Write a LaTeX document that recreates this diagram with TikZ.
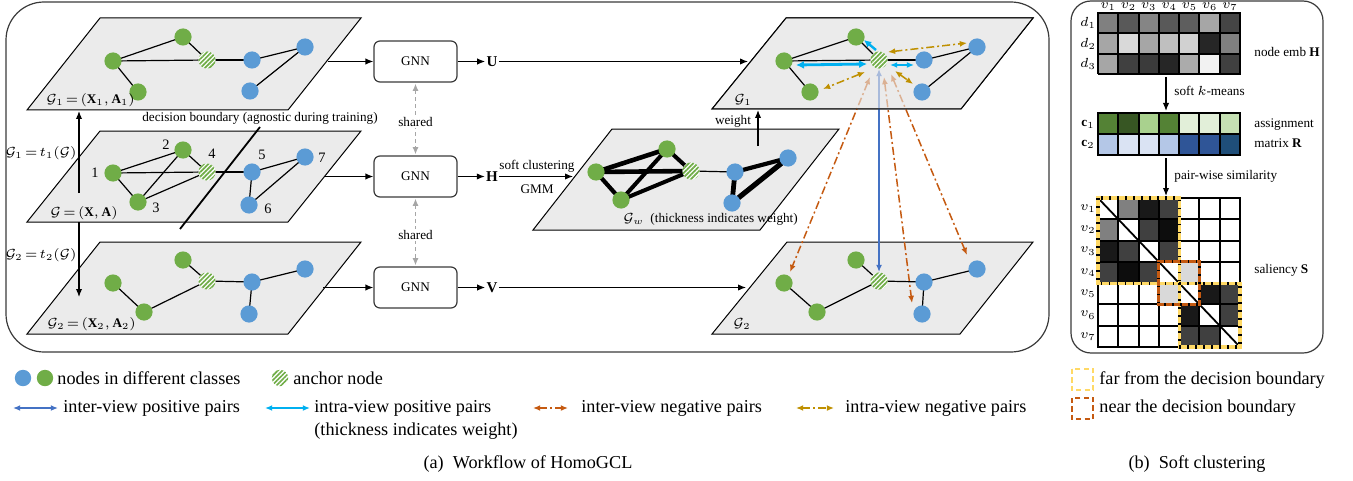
\RequirePackage{fix-cm}
\documentclass[tikz,border=0pt]{standalone}
\usepackage{fontspec}
\setmainfont{Liberation Serif}
\usetikzlibrary{arrows.meta,patterns.meta,calc}

\definecolor{ngreen}{HTML}{70AD47}
\definecolor{nblue}{HTML}{5B9BD5}
\definecolor{planegray}{HTML}{EBEBEB}
\definecolor{posblue}{HTML}{4472C4}
\definecolor{poscyan}{HTML}{00B0F0}
\definecolor{neggold}{HTML}{BF9000}
\definecolor{negorange}{HTML}{C55A11}
\definecolor{farylw}{HTML}{FFD966}
\definecolor{boxgray}{HTML}{3A3A3A}
\definecolor{sharegray}{HTML}{A6A6A6}
\definecolor{gA}{HTML}{548235}
\definecolor{gB}{HTML}{375623}
\definecolor{gC}{HTML}{A9D18E}
\definecolor{gD}{HTML}{E2EFD9}
\definecolor{gE}{HTML}{C5E0B3}
\definecolor{bA}{HTML}{B4C7E7}
\definecolor{bB}{HTML}{DAE3F3}
\definecolor{bC}{HTML}{2F5597}
\definecolor{bD}{HTML}{1F4E79}

\newcommand{\legtxt}{\fontsize{9.1}{11}\selectfont}
\newcommand{\smalltxt}{\fontsize{6.6}{8}\selectfont}
\newcommand{\numtxt}{\fontsize{7.2}{8}\selectfont}
\newcommand{\cellw}{20.286}
\newcommand{\cellh}{21.29}
% tighter relation spacing for the small graph labels
\newcommand{\teq}{\mkern-2.5mu=\mkern-2.5mu}

\pgfdeclarelayer{planes}
\pgfdeclarelayer{links}
\pgfdeclarelayer{veil}
\pgfdeclarelayer{edges}
\pgfsetlayers{planes,links,veil,edges,main}

\begin{document}
\begin{tikzpicture}[x=0.5pt,y=-0.5pt,
  gn/.style={circle,fill=ngreen,inner sep=0pt,minimum size=8.6pt},
  bn/.style={circle,fill=nblue,inner sep=0pt,minimum size=8.6pt},
  an/.style={circle,inner sep=0pt,minimum size=8.6pt,fill=white,
    postaction={pattern={Lines[angle=45,distance=1.6pt,line width=0.85pt]},pattern color=ngreen}},
  lnk/.style={line width=0.6pt},
  plane/.style={fill=planegray,draw=black,line width=0.5pt},
  gnnbox/.style={draw=boxgray,rounded corners=3pt,line width=0.6pt,minimum width=41.5pt,
    minimum height=20.5pt,inner sep=0pt,font=\smalltxt},
  flow/.style={line width=0.6pt,-{Latex[length=4pt,width=3.2pt]}},
  dbl/.style={{Latex[length=3.6pt,width=3pt]}-{Latex[length=3.6pt,width=3pt]}},
  sharedarr/.style={draw=sharegray,line width=0.5pt,dash pattern=on 2pt off 1.5pt,
    {Latex[length=3.5pt,width=3pt]}-{Latex[length=3.5pt,width=3pt]},shorten <=0.6pt,shorten >=0.6pt},
  lab/.style={inner sep=0.5pt,font=\smalltxt},
  bold/.style={inner sep=0.5pt,font=\fontsize{7.5}{8}\selectfont},
  num/.style={inner sep=0pt,font=\numtxt},
  legtext/.style={inner sep=0pt,anchor=west,font=\legtxt},
  dashdot/.style={line width=0.75pt,dash pattern=on 4pt off 1.5pt on 1pt off 1.5pt},
  intraneg/.style={dashdot,draw=neggold,dbl},
  interneg/.style={dashdot,draw=negorange,dbl},
  farbox/.style={draw=farylw,line width=1.6pt},
  nearbox/.style={draw=negorange,line width=1.6pt},
  dotover/.style={draw=black,line width=1.6pt,dash pattern=on 0.8pt off 3.2pt},
]
\useasboundingbox (0,0) rectangle (1353,481);

% ---------- frames ----------
\draw[boxgray,line width=0.6pt,rounded corners=19pt] (6,2) rectangle (1049,352);
\draw[boxgray,line width=0.6pt,rounded corners=10pt] (1071,1) rectangle (1323,353);

% ---------- planes ----------
\begin{pgfonlayer}{planes}
  \path[plane] (100,18) -- (361,18) -- (288,110) -- (27,110) -- cycle;
  \path[plane] (100,131) -- (361,131) -- (288,222) -- (27,222) -- cycle;
  \path[plane] (100,242) -- (361,242) -- (288,334) -- (27,334) -- cycle;
  \path[plane] (612,129) -- (839,129) -- (760,230) -- (533,230) -- cycle;
  \path[plane] (787,242) -- (1033,242) -- (960,334) -- (712,334) -- cycle;
  \path[plane] (786,18) -- (1033,18) -- (961,109) -- (712,109) -- cycle;
\end{pgfonlayer}
\begin{pgfonlayer}{veil}
  \path[plane,fill opacity=0.6] (786,18) -- (1033,18) -- (961,109) -- (712,109) -- cycle;
\end{pgfonlayer}

% ---------- view 1 (left) ----------
\node[gn] (a1) at (113,61) {};
\node[gn] (a2) at (183,37) {};
\node[gn] (a3) at (138,92) {};
\node[an] (a4) at (207,60) {};
\node[bn] (a5) at (252,60) {};
\node[bn] (a6) at (250,91) {};
\node[bn] (a7) at (305,47) {};
\node[lab,anchor=west] (a1lab) at (45,100) {$\mathcal{G}_1\teq(\mathbf{X}_1,\mathbf{A}_1)$};

% ---------- original graph ----------
\node[gn] (b1) at (113,173) {};
\node[gn] (b2) at (183,150) {};
\node[gn] (b3) at (138,202) {};
\node[an] (b4) at (207,172) {};
\node[bn] (b5) at (252,172) {};
\node[bn] (b6) at (249,205) {};
\node[bn] (b7) at (305,157) {};
\node[num] (n1) at (95,173) {1};
\node[num] (n2) at (166,145) {2};
\node[num] (n3) at (156,208) {3};
\node[num] (n4) at (212,154) {4};
\node[num] (n5) at (262,155) {5};
\node[num] (n6) at (268,209) {6};
\node[num] (n7) at (322,158) {7};
\node[lab,anchor=west] (b0lab) at (49,213) {$\mathcal{G}\teq(\mathbf{X},\mathbf{A})$};

% ---------- view 2 (left) ----------
\node[gn] (c1) at (113,283) {};
\node[gn] (c2) at (183,260) {};
\node[gn] (c3) at (144,312) {};
\node[an] (c4) at (207,281) {};
\node[bn] (c5) at (252,282) {};
\node[bn] (c6) at (249,314) {};
\node[bn] (c7) at (305,269) {};
\node[lab,anchor=west] (c2lab) at (46,324) {$\mathcal{G}_2\teq(\mathbf{X}_2,\mathbf{A}_2)$};

% ---------- weighted graph ----------
\node[gn] (w1) at (596,172) {};
\node[gn] (w2) at (667,149) {};
\node[gn] (w3) at (621,200) {};
\node[an] (w4) at (691,171) {};
\node[bn] (w5) at (735,172) {};
\node[bn] (w6) at (732,203) {};
\node[bn] (w7) at (788,158) {};
\node[lab,anchor=west] (wlab) at (622,219) {$\mathcal{G}_w$\ \ (thickness indicates weight)};

% ---------- view 1 (right) ----------
\node[gn] (r1) at (784,61) {};
\node[gn] (r2) at (856,37) {};
\node[gn] (r3) at (810,92) {};
\node[an] (r4) at (879,60) {};
\node[bn] (r5) at (924,60) {};
\node[bn] (r6) at (922,92) {};
\node[bn] (r7) at (977,47) {};
\node[lab] (rlab) at (743,100) {$\mathcal{G}_1$};

% ---------- view 2 (right) ----------
\node[gn] (s1) at (784,283) {};
\node[gn] (s2) at (856,260) {};
\node[gn] (s3) at (817,312) {};
\node[an] (s4) at (879,281) {};
\node[bn] (s5) at (924,282) {};
\node[bn] (s6) at (922,314) {};
\node[bn] (s7) at (977,269) {};
\node[lab] (slab) at (742,324) {$\mathcal{G}_2$};

% ---------- graph edges ----------
\begin{pgfonlayer}{edges}
  \foreach \u/\v in {a1/a2,a2/a4,a1/a4,a4/a5,a1/a3,a5/a7,a7/a6,
                     b1/b2,b1/b4,b4/b5,b1/b3,b2/b3,b3/b4,b2/b4,b5/b7,b5/b6,b6/b7,
                     c2/c4,c4/c5,c5/c7,c5/c6,c1/c3,c3/c4,
                     r1/r2,r2/r4,r1/r4,r4/r5,r1/r3,r5/r7,r7/r6,
                     s2/s4,s4/s5,s5/s7,s5/s6,s1/s3,s3/s4,
                     w4/w5}
    \draw[lnk] (\u.center) -- (\v.center);
  \foreach \u/\v/\w in {w1/w2/2.3,w1/w4/2.3,w1/w3/2.1,w3/w2/2.0,w3/w4/2.0,w2/w4/2.0,
                        w5/w7/2.1,w7/w6/2.6,w5/w6/2.4}
    \draw[line width=\w pt] (\u.center) -- (\v.center);
\end{pgfonlayer}

% ---------- decision boundary ----------
\coordinate (db1) at (260,127);
\coordinate (db2) at (180,229);
\draw[line width=0.9pt] (db1) -- (db2);
\node[lab] (dblab) at (260,118) {decision boundary (agnostic during training)};

% ---------- augmentations ----------
\coordinate (t1s) at (79,193);
\coordinate (t1e) at (79,111);
\coordinate (t2s) at (79,222);
\coordinate (t2e) at (79,297);
\draw[flow] (t1s) -- (t1e);
\draw[flow] (t2s) -- (t2e);
\node[lab,anchor=east] (t1lab) at (78,153) {$\mathcal{G}_1\teq t_1(\mathcal{G})$};
\node[lab,anchor=east] (t2lab) at (78,255) {$\mathcal{G}_2\teq t_2(\mathcal{G})$};

% ---------- encoders ----------
\node[gnnbox] (gnn1) at (415.5,61.5) {GNN};
\node[gnnbox] (gnn2) at (415.5,176.5) {GNN};
\node[gnnbox] (gnn3) at (415.5,287.5) {GNN};
\coordinate (p1o) at (328,61.5);
\coordinate (p0o) at (324,176.5);
\coordinate (p2o) at (323,287.5);
\draw[flow] (p1o) -- (gnn1.west);
\draw[flow] (p0o) -- (gnn2.west);
\draw[flow] (p2o) -- (gnn3.west);

\draw[sharedarr] (gnn1.south) -- (gnn2.north);
\draw[sharedarr] (gnn2.south) -- (gnn3.north);
\node[lab,fill=white] (sh1) at (415.5,122) {shared};
\node[lab,fill=white] (sh2) at (415.5,235) {shared};

\node[bold] (U) at (492,61.5) {$\mathbf{U}$};
\node[bold] (H) at (492,176.5) {$\mathbf{H}$};
\node[bold] (V) at (492,287.5) {$\mathbf{V}$};
\draw[flow] (gnn1.east) -- (U.west);
\draw[flow] (gnn2.east) -- (H.west);
\draw[flow] (gnn3.east) -- (V.west);

\coordinate (uend) at (748,61.5);
\coordinate (hend) at (573,176.5);
\coordinate (vend) at (746,287.5);
\draw[flow] (U.east) -- (uend);
\draw[flow] (H.east) -- (hend);
\draw[flow] (V.east) -- (vend);
\node[lab] (sclab) at (537,166) {soft clustering};
\node[lab] (gmmlab) at (537,189) {GMM};

\coordinate (wts) at (758,146);
\coordinate (wte) at (758,110);
\draw[flow] (wts) -- (wte);
\node[lab] (wtlab) at (733,121) {weight};

% ---------- inter-view pairs ----------
\begin{pgfonlayer}{links}
  \draw[interneg] ($(r4)+(-9,17)$) -- ($(s1)+(6,-11)$);
  \draw[interneg] ($(r4)+(5,17)$) -- ($(s6)+(-10,-11)$);
  \draw[interneg] ($(r4)+(12,14)$) -- ($(s7)+(-10,-14)$);
  \draw[posblue,line width=0.75pt,dbl] (r4) -- (s4);
\end{pgfonlayer}

% ---------- intra-view pairs ----------
\draw[poscyan,line width=1.4pt,{Latex[length=4pt,width=4pt]}-{Latex[length=4pt,width=4pt]}]
  ($(r1)+(12,4)$) -- ($(r4)+(-12,4)$);
\draw[poscyan,line width=1.2pt,-{Latex[length=3.6pt,width=3.6pt]}] ($(r4)+(-3,-10)$) -- ($(r2)+(8,3)$);
\draw[poscyan,line width=0.7pt,dbl] ($(r4)+(11,5)$) -- ($(r5)+(-10,5)$);
\draw[intraneg] ($(r4)+(9,-8)$) -- ($(r7)+(-10,-4)$);
\draw[intraneg] ($(r4)+(-14,12)$) -- ($(r3)+(13,-3)$);
\draw[intraneg] ($(r4)+(16,11)$) -- ($(r6)+(-9,-8)$);

% ---------- soft clustering: node embeddings ----------
\foreach \row [count=\j from 0] in {{50,65,48,65,63,35,73},{35,15,35,25,18,85,50},{35,75,77,85,33,5,75}}{
  \foreach \g [count=\i from 0] in \row {
    \fill[black!\g] (1098+\i*\cellw,13+\j*20.33) rectangle ++(\cellw,20.33);
  }
}
\foreach \i in {0,...,7} \draw[line width=1pt] (1098+\i*\cellw,12.5) -- (1098+\i*\cellw,74.5);
\foreach \j in {0,...,3} \draw[line width=1pt] (1097.5,13+\j*20.33) -- (1240.5,13+\j*20.33);
\foreach \i in {1,...,7}
  \node[lab,anchor=base] (hv\i) at (1098+\i*\cellw-0.5*\cellw,8.5) {$v_{\i}$};
\foreach \j in {1,2,3}
  \node[lab] (hd\j) at (1088,23.2+\j*20.33-20.33) {$d_{\j}$};
\node[lab,anchor=west] (hlab) at (1253,52) {node emb $\mathbf{H}$};

\coordinate (hb) at (1166,77);
\coordinate (rt) at (1166,111);
\draw[flow] (hb) -- (rt);
\node[lab,anchor=west] (kmlab) at (1173,91) {soft $k$-means};

% ---------- assignment matrix ----------
\foreach \c [count=\i from 0] in {gA,gB,gC,gA,gD,gD,gE}
  \fill[\c] (1098+\i*\cellw,113) rectangle ++(\cellw,21);
\foreach \c [count=\i from 0] in {bA,bB,bB,bA,bC,bC,bD}
  \fill[\c] (1098+\i*\cellw,134) rectangle ++(\cellw,21);
\foreach \i in {0,...,7} \draw[line width=1pt] (1098+\i*\cellw,112.5) -- (1098+\i*\cellw,155.5);
\foreach \j in {0,1,2} \draw[line width=1pt] (1097.5,113+\j*21) -- (1240.5,113+\j*21);
\node[lab] (rc1) at (1088,124) {$\mathbf{c}_1$};
\node[lab] (rc2) at (1088,144) {$\mathbf{c}_2$};
\node[lab,anchor=west] (rlab1) at (1253,125) {assignment};
\node[lab,anchor=west] (rlab2) at (1253,143) {matrix $\mathbf{R}$};

\coordinate (rb) at (1166,158);
\coordinate (st) at (1166,196);
\draw[flow] (rb) -- (st);
\node[lab,anchor=west] (pwlab) at (1173,176) {pair-wise similarity};

% ---------- saliency matrix ----------
\foreach \row [count=\j from 0] in {{0,50,90,75,0,0,0},{50,0,75,95,0,0,0},{90,75,0,75,0,0,0},
    {75,95,75,0,15,0,0},{0,0,0,15,0,90,75},{0,0,0,0,90,0,75},{0,0,0,0,75,75,0}}{
  \foreach \g [count=\i from 0] in \row {
    \fill[black!\g] (1098+\i*\cellw,198+\j*\cellh) rectangle ++(\cellw,\cellh);
  }
}
\foreach \i in {0,...,7} \draw[line width=1pt] (1098+\i*\cellw,197.5) -- (1098+\i*\cellw,347.5);
\foreach \j in {0,...,7} \draw[line width=1pt] (1097.5,198+\j*\cellh) -- (1240.5,198+\j*\cellh);
\draw[line width=0.9pt] (1098,198) -- (1240,347);
\foreach \j in {1,...,7}
  \node[lab] (sv\j) at (1088,198+\j*\cellh-0.5*\cellh) {$v_{\j}$};
\node[lab,anchor=west] (slab2) at (1253,270) {saliency $\mathbf{S}$};

\draw[farbox] (1098,198) rectangle (1098+4*\cellw,198+4*\cellh);
\draw[dotover] (1098,198) rectangle (1098+4*\cellw,198+4*\cellh);
\draw[farbox] (1098+4*\cellw,198+4*\cellh) rectangle (1240,347);
\draw[dotover] (1098+4*\cellw,198+4*\cellh) rectangle (1240,347);
\draw[nearbox] (1098+3*\cellw,198+3*\cellh) rectangle (1098+5*\cellw,198+5*\cellh);
\draw[dotover] (1098+3*\cellw,198+3*\cellh) rectangle (1098+5*\cellw,198+5*\cellh);

% ---------- legend ----------
\node[bn,minimum size=8.2pt] (lgb) at (23,378) {};
\node[gn,minimum size=8.2pt] (lgg) at (45,378) {};
\node[legtext] (lg1) at (57,378) {nodes in different classes};
\node[an,minimum size=8.2pt] (lga) at (280,378) {};
\node[legtext] (lg2) at (293,378) {anchor node};

\coordinate (l1a) at (13,408);
\coordinate (l1b) at (58,408);
\draw[posblue,line width=0.75pt,dbl] (l1a) -- (l1b);
\node[legtext] (lg3) at (63,408) {inter-view positive pairs};
\coordinate (l2a) at (265,408);
\coordinate (l2b) at (310,408);
\draw[poscyan,line width=0.9pt,dbl] (l2a) -- (l2b);
\node[legtext] (lg4) at (314,408) {intra-view positive pairs};
\node[legtext] (lg5) at (314,431) {(thickness indicates weight)};
\coordinate (l3a) at (533,408);
\coordinate (l3b) at (568,408);
\draw[interneg] (l3a) -- (l3b);
\node[legtext] (lg6) at (581,408) {inter-view negative pairs};
\coordinate (l4a) at (796,408);
\coordinate (l4b) at (834,408);
\draw[intraneg] (l4a) -- (l4b);
\node[legtext] (lg7) at (845,408) {intra-view negative pairs};

\draw[draw=farylw,line width=1.1pt,dash pattern=on 2.6pt off 1.6pt] (1072,369) rectangle (1093,390);
\node[legtext] (lg8) at (1099,380) {far from the decision boundary};
\draw[draw=negorange,line width=1.1pt,dash pattern=on 2.6pt off 1.6pt] (1072,398) rectangle (1093,419);
\node[legtext] (lg9) at (1099,408) {near the decision boundary};

% ---------- captions ----------
\node[inner sep=0pt,font=\legtxt] (capa) at (528,464) {(a)\enspace Workflow of HomoGCL};
\node[inner sep=0pt,font=\legtxt] (capb) at (1197,464) {(b)\enspace Soft clustering};
\end{tikzpicture}
\end{document}
